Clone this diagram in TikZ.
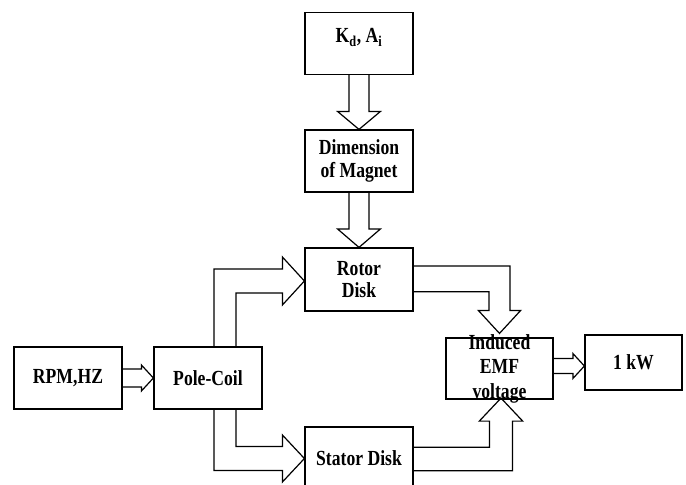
\documentclass[tikz,border=0pt]{standalone}
\usepackage{fontspec}
\newfontfamily\diagfont{Liberation Serif}[FakeStretch=0.82]
\usetikzlibrary{calc}
\begin{document}
\begin{tikzpicture}[x=1pt,y=-1pt,
  txt/.style={font=\diagfont\bfseries\fontsize{21.5}{22.5}\selectfont, align=center},
  box/.style={txt, draw, line width=1.2pt, minimum width=108pt, minimum height=62pt, inner sep=2pt},
  fat/.style={draw, line width=1.2pt, line join=miter}]
\useasboundingbox (0,0) rectangle (686,485);
\clip (0,0) rectangle (686,485);

% blocks
\node[box, text height=14.5pt, text depth=16pt] (kd) at (359,43.5) {K\textsubscript{d}, A\textsubscript{i}};
\node[box] (mag) at (359,161) {Dimension\\of Magnet};
\node[box, minimum height=63pt] (rotor) at (359,279.5) {Rotor\\Disk};
\node[box] (rpm) at (68,378) {RPM,HZ};
\node[box] (pole) at (208,378) {Pole-Coil};
\node[box, minimum height=63pt] (stator) at (359,458.5) {Stator Disk};
\node[box, minimum width=107pt, minimum height=61pt] (emf) at (499.5,368.5) {};
\node[txt, inner sep=0pt, font=\diagfont\bfseries\fontsize{21.5}{24.5}\selectfont] (emftxt) at (emf.center) {Induced\\EMF\\voltage};
\node[box, minimum width=97pt, minimum height=55pt] (kw) at (633.5,362.5) {1 kW};

% helper points for the arrow tips
\coordinate (rt) at ($(rotor.west)+(0,1.5)$);
\coordinate (st) at (stator.west);
\coordinate (et) at ($(emf.north)+(0,-4)$);
\coordinate (eb) at ($(emf.south)+(1.5,-1.5)$);
\coordinate (kt) at ($(kw.west)+(0,3.5)$);

% straight block arrows
\draw[fat] ($(kd.south)+(-10,0)$) -- ($(mag.north)+(-10,-18)$) -- ++(-11.5,0) -- (mag.north)
  -- ($(mag.north)+(21.5,-18)$) -- ++(-11.5,0) -- ($(kd.south)+(10,0)$);
\draw[fat] ($(mag.south)+(-10,0)$) -- ($(rotor.north)+(-10,-18.5)$) -- ++(-11.5,0) -- (rotor.north)
  -- ($(rotor.north)+(21.5,-18.5)$) -- ++(-11.5,0) -- ($(mag.south)+(10,0)$);
\draw[fat] ($(rpm.east)+(0,-9)$) -- ($(pole.west)+(-12,-9)$) -- ++(0,-4) -- (pole.west)
  -- ($(pole.west)+(-12,13)$) -- ++(0,-4) -- ($(rpm.east)+(0,9)$);
\draw[fat] ($(kt -| emf.east)+(0,-7.5)$) -- ($(kt)+(-11.5,-7.5)$) -- ++(0,-5) -- (kt)
  -- ($(kt)+(-11.5,12.5)$) -- ++(0,-5) -- ($(kt -| emf.east)+(0,7.5)$);

% bent block arrows
\draw[fat] ($(pole.north)+(6,0)$) |- ($(rt)+(-22,-12)$) -- ++(0,-12) -- (rt)
  -- ($(rt)+(-22,24)$) -- ++(0,-12) -| ($(pole.north)+(28,0)$);
\draw[fat] ($(pole.south)+(28,0)$) |- ($(st)+(-22,-12)$) -- ++(0,-11.5) -- (st)
  -- ($(st)+(-22,23.5)$) -- ++(0,-11.5) -| ($(pole.south)+(6,0)$);
\draw[fat] ($(rotor.east)+(0,-13.5)$) -| ($(et)+(10.5,-23)$) -- ++(10.7,0) -- (et)
  -- ($(et)+(-21.2,-23)$) -- ++(10.7,0) |- ($(rotor.east)+(0,12.2)$);
\draw[fat] ($(stator.east)+(0,-11.2)$) -| ($(eb)+(-11.5,23)$) -- ++(-10.2,0) -- (eb)
  -- ($(eb)+(21.7,23)$) -- ++(-10.2,0) |- ($(stator.east)+(0,12.2)$);
\end{tikzpicture}
\end{document}
